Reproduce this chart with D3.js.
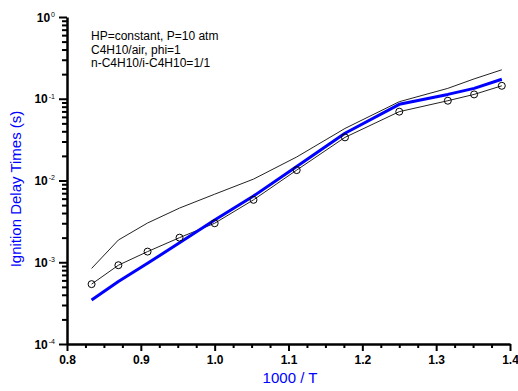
<!DOCTYPE html>
<html>
<head>
<meta charset="utf-8">
<script src="https://cdn.jsdelivr.net/npm/d3@7"></script>
<style>
  body { margin: 0; background: #fff; }
  svg { display: block; font-family: "Liberation Sans", Arial, sans-serif; }
</style>
</head>
<body>
<div id="chart"></div>
<script>
// 1000/T values (1/K)
const invT = [0.8333, 0.8696, 0.9091, 0.9524, 1.0, 1.0526, 1.1111, 1.1765, 1.25, 1.3158, 1.3514, 1.3889];
// measured ignition delays (s), open circles
const expTimes = [5.4e-4, 9.2e-4, 1.35e-3, 2.0e-3, 3.0e-3, 5.8e-3, 1.34e-2, 3.37e-2, 6.95e-2, 9.46e-2, 0.113, 0.144];
// model, thick blue
const modelBlue = [3.45e-4, 5.8e-4, 9.7e-4, 1.73e-3, 3.29e-3, 6.45e-3, 1.48e-2, 3.78e-2, 8.55e-2, 0.113, 0.134, 0.173];
// model, thin black
const modelThin = [8.4e-4, 1.87e-3, 3.02e-3, 4.6e-3, 6.8e-3, 1.04e-2, 1.94e-2, 4.33e-2, 9.2e-2, 0.134, 0.175, 0.226];

const xTicks = [0.8, 0.9, 1.0, 1.1, 1.2, 1.3, 1.4];
const yExponents = [-4, -3, -2, -1, 0];
const notes = ["HP=constant, P=10 atm", "C4H10/air, phi=1", "n-C4H10/i-C4H10=1/1"];

const W = 518, H = 391;
const svg = d3.select("#chart").append("svg")
  .attr("width", W)
  .attr("height", H);

const x = d3.scaleLinear().domain([0.8, 1.4]).range([67, 510]);
const y = d3.scaleLog().domain([1e-4, 1]).range([344, 17]);

// minor ticks
const xMinor = d3.range(0, 25).map(i => 0.8 + i * 0.025).filter(v => Math.abs(v * 10 - Math.round(v * 10)) > 1e-6);
const yMinor = [];
yExponents.slice(0, -1).forEach(e => {
  for (let k = 2; k <= 9; k++) yMinor.push(k * Math.pow(10, e));
});

svg.append("g")
  .attr("transform", "translate(0,344)")
  .call(d3.axisBottom(x).tickValues(xMinor).tickSize(4).tickFormat(""))
  .call(g => g.select(".domain").remove())
  .selectAll("line").attr("stroke-width", 2);

svg.append("g")
  .attr("transform", "translate(67,0)")
  .call(d3.axisLeft(y).tickValues(yMinor).tickSize(5).tickFormat(""))
  .call(g => g.select(".domain").remove())
  .selectAll("line").attr("stroke-width", 2);

// major x axis
const gx = svg.append("g")
  .attr("transform", "translate(0,344)")
  .call(d3.axisBottom(x).tickValues(xTicks).tickSize(7).tickSizeOuter(0).tickPadding(4).tickFormat(d3.format(".1f")));
gx.select(".domain").attr("stroke-width", 2.5);
gx.selectAll("line").attr("stroke-width", 2);
gx.selectAll("text")
  .attr("font-size", 12)
  .attr("font-weight", "bold")
  .attr("fill", "#000");

// major y axis
const gy = svg.append("g")
  .attr("transform", "translate(67,0)")
  .call(d3.axisLeft(y).tickValues(yExponents.map(e => Math.pow(10, e))).tickSize(8).tickSizeOuter(0).tickFormat(""));
gy.select(".domain").attr("stroke-width", 2.5);
gy.selectAll("line").attr("stroke-width", 2);
gy.selectAll(".tick").append("text")
  .attr("x", -13)
  .attr("dy", "0.35em")
  .attr("text-anchor", "end")
  .attr("fill", "#000")
  .attr("font-size", 12)
  .attr("font-weight", "bold")
  .each(function (d) {
    const t = d3.select(this);
    t.append("tspan").text("10");
    t.append("tspan")
      .attr("font-size", 7)
      .attr("font-weight", "normal")
      .attr("dy", "-0.7em")
      .attr("dx", "1")
      .text(Math.round(Math.log10(d)));
  });
// shift the labels so "10" ends near the axis and exponent sits after it
gy.selectAll(".tick text").attr("x", -12);

// lines
const pts = vals => invT.map((v, i) => [v, vals[i]]);
const line = d3.line().x(d => x(d[0])).y(d => y(d[1]));

svg.append("path")
  .datum(pts(modelThin))
  .attr("d", line)
  .attr("fill", "none")
  .attr("stroke", "#222")
  .attr("stroke-width", 1);

svg.append("path")
  .datum(pts(expTimes))
  .attr("d", line)
  .attr("fill", "none")
  .attr("stroke", "#222")
  .attr("stroke-width", 1);

svg.append("path")
  .datum(pts(modelBlue))
  .attr("d", line)
  .attr("fill", "none")
  .attr("stroke", "#0000ff")
  .attr("stroke-width", 3)
  .attr("stroke-linejoin", "round");

svg.append("g")
  .selectAll("circle")
  .data(pts(expTimes))
  .enter()
  .append("circle")
  .attr("cx", d => x(d[0]))
  .attr("cy", d => y(d[1]))
  .attr("r", 3.5)
  .attr("fill", "none")
  .attr("stroke", "#000")
  .attr("stroke-width", 1);

// notes
svg.append("g")
  .selectAll("text")
  .data(notes)
  .enter()
  .append("text")
  .attr("x", 91)
  .attr("y", (d, i) => 40 + i * 13.5)
  .attr("font-size", 12)
  .attr("fill", "#000")
  .text(d => d);

// axis titles
svg.append("text")
  .attr("x", 290)
  .attr("y", 383)
  .attr("text-anchor", "middle")
  .attr("font-size", 15)
  .attr("fill", "#0000ff")
  .text("1000 / T");

svg.append("text")
  .attr("transform", "translate(21,189) rotate(-90)")
  .attr("text-anchor", "middle")
  .attr("font-size", 15)
  .attr("fill", "#0000ff")
  .text("Ignition Delay Times (s)");
</script>
</body>
</html>
